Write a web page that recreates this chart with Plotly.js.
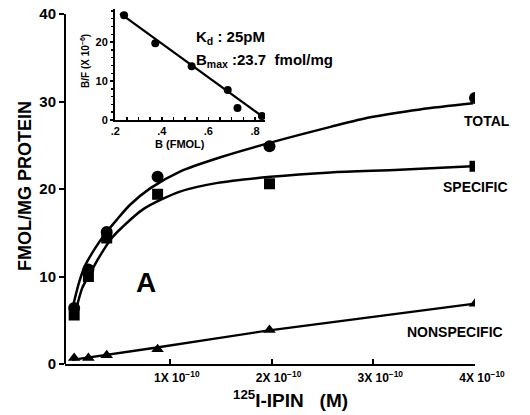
<!DOCTYPE html>
<html>
<head>
<meta charset="utf-8">
<script src="https://cdn.plot.ly/plotly-3.0.1.min.js"></script>
<style>html,body{margin:0;padding:0;background:#fff;}#chart{width:530px;height:415px;}</style>
</head>
<body>
<div id="chart"></div>
<script>
// ---------- data (concentration in units of 10^-10 M) ----------
const concentration = [0.06, 0.2, 0.38, 0.88, 1.98, 4.0];
const totalBound = [6.4, 10.8, 15.1, 21.4, 24.9, 30.4];
const specificBound = [5.6, 10.0, 14.4, 19.4, 20.6, 22.6];
const nonspecificBound = [0.7, 0.7, 1.0, 1.7, 3.9, 6.9];

// fitted curves as drawn in the figure
const totalCurveX = [0.04, 0.11, 0.17, 0.27, 0.36, 0.48, 0.61, 0.81, 1.10, 1.49, 1.99, 2.58, 2.97, 3.46, 3.98];
const totalCurveY = [6.2, 9.4, 11.3, 13.3, 14.8, 16.5, 18.2, 20.1, 22.0, 23.6, 25.3, 27.1, 28.2, 29.1, 29.8];
const specificCurveX = [0.06, 0.14, 0.21, 0.30, 0.43, 0.53, 0.74, 1.10, 1.47, 1.99, 2.58, 3.26, 3.97];
const specificCurveY = [5.3, 8.7, 10.2, 12.1, 14.4, 15.6, 17.7, 19.7, 20.7, 21.4, 21.9, 22.2, 22.6];
const nonspecificLineX = [0.04, 0.84, 1.94, 3.98];
const nonspecificLineY = [0.46, 1.83, 3.78, 6.88];

// Scatchard inset
const scatB = [0.238, 0.372, 0.528, 0.683, 0.725, 0.830];
const scatBF = [26.9, 19.7, 13.8, 7.7, 3.1, 1.0];
const scatLineX = [0.221, 0.834];
const scatLineY = [27.4, 0.8];

// tick labels
const mainXTickVals = [1, 2, 3, 4];
const mainXTickText = ['1X 10<sup>\u221210</sup>', '2X 10<sup>\u221210</sup>', '3X 10<sup>\u221210</sup>', '4X 10<sup>\u221210</sup>'];
const mainYTickVals = [0, 10, 20, 30, 40];
const insetXTickVals = [0.2, 0.4, 0.6, 0.8];
const insetXTickText = ['.2', '.4', '.6', '.8'];
const insetYTickVals = [0, 10, 20];

// ---------- layout helpers ----------
const W = 530, H = 415;
const M = {l: 65, r: 55, t: 8, b: 51};
const PW = W - M.l - M.r, PH = H - M.t - M.b;
const fx = px => (px - M.l) / PW;
const fy = py => (H - M.b - py) / PH;
const FAM = 'Liberation Sans, Arial, sans-serif';
const bold = (size) => ({family: FAM, size: size, color: '#000', weight: 'bold'});

const traces = [
  {x: totalCurveX, y: totalCurveY, mode: 'lines', line: {color: '#000', width: 2.5, shape: 'spline', smoothing: 0.8}, hoverinfo: 'skip'},
  {x: specificCurveX, y: specificCurveY, mode: 'lines', line: {color: '#000', width: 2.5, shape: 'spline', smoothing: 0.8}, hoverinfo: 'skip'},
  {x: nonspecificLineX, y: nonspecificLineY, mode: 'lines', line: {color: '#000', width: 2.3, shape: 'spline', smoothing: 0.6}, hoverinfo: 'skip'},
  {x: concentration, y: totalBound, mode: 'markers', marker: {symbol: 'circle', size: 12, color: '#000'}},
  {x: concentration, y: specificBound, mode: 'markers', marker: {symbol: 'square', size: 11, color: '#000'}},
  {x: concentration, y: nonspecificBound, mode: 'markers', marker: {symbol: 'triangle-up', size: 11, color: '#000'}},
  {x: scatLineX, y: scatLineY, xaxis: 'x2', yaxis: 'y2', mode: 'lines', line: {color: '#000', width: 2.2}},
  {x: scatB, y: scatBF, xaxis: 'x2', yaxis: 'y2', mode: 'markers', marker: {symbol: 'circle', size: 8, color: '#000'}}
];

const ann = (px, py, text, size, extra) => Object.assign({
  xref: 'paper', yref: 'paper', x: fx(px), y: fy(py), text: text, showarrow: false,
  font: bold(size), xanchor: 'center', yanchor: 'middle'
}, extra || {});

const layout = {
  width: W, height: H,
  margin: M,
  paper_bgcolor: '#fff', plot_bgcolor: 'rgba(0,0,0,0)',
  showlegend: false,
  font: bold(12),
  xaxis: {
    range: [-0.03, 4.0], showgrid: false, zeroline: false,
    showline: true, linecolor: '#000', linewidth: 2,
    tickvals: mainXTickVals, ticktext: mainXTickText,
    ticks: 'inside', ticklen: 5, tickwidth: 2, tickcolor: '#000',
    ticklabelshift: 7, ticklabelstandoff: 2,
    tickfont: bold(12)
  },
  yaxis: {
    range: [0, 40.69], showgrid: false, zeroline: false, showline: false,
    tickvals: mainYTickVals, ticks: 'outside', ticklen: 5, tickwidth: 2, tickcolor: '#000',
    ticklabelstandoff: 0, tickfont: bold(15)
  },
  xaxis2: {
    domain: [fx(115), fx(265)], anchor: 'y2', range: [0.199, 0.843],
    showgrid: false, zeroline: false, showline: true, linecolor: '#000', linewidth: 2,
    tickvals: insetXTickVals, ticktext: insetXTickText,
    ticks: 'inside', ticklen: 3, tickwidth: 1.5, tickcolor: '#000',
    minor: {dtick: 0.05, tick0: 0.2, ticks: 'inside', ticklen: 3, tickwidth: 1.5, tickcolor: '#000'},
    tickfont: bold(11)
  },
  yaxis2: {
    domain: [fy(120), fy(9)], anchor: 'x2', range: [0, 28.5],
    showgrid: false, zeroline: false, showline: true, linecolor: '#000', linewidth: 2,
    tickvals: insetYTickVals,
    ticks: 'outside', ticklen: 3, tickwidth: 1.5, tickcolor: '#000',
    minor: {dtick: 2, tick0: 0, ticks: 'outside', ticklen: 2, tickwidth: 1.5, tickcolor: '#000'},
    tickfont: bold(11)
  },
  shapes: [
    {type: 'line', xref: 'paper', yref: 'y', x0: 0, x1: 0, y0: 0, y1: 40, line: {color: '#000', width: 2}}
  ],
  annotations: [
    ann(487, 121, 'TOTAL', 14),
    ann(475, 187, 'SPECIFIC', 14),
    ann(455, 332, 'NONSPECIFIC', 14),
    ann(146, 282, 'A', 28),
    ann(194, 38, 'K<sub>d</sub> : 25pM', 15, {xanchor: 'left'}),
    ann(194, 60, 'B<sub>max</sub> :23.7  fmol/mg', 15, {xanchor: 'left'}),
    ann(25, 186, 'FMOL/MG PROTEIN', 18, {textangle: -90}),
    ann(290, 399, '<sup>125</sup>I-IPIN   (M)', 19),
    ann(85, 61, 'B/F (X 10<sup>\u22126</sup>)', 10, {textangle: -90}),
    ann(180, 144, 'B (FMOL)', 11)
  ]
};

Plotly.newPlot('chart', traces, layout, {displayModeBar: false, staticPlot: true});
</script>
</body>
</html>
